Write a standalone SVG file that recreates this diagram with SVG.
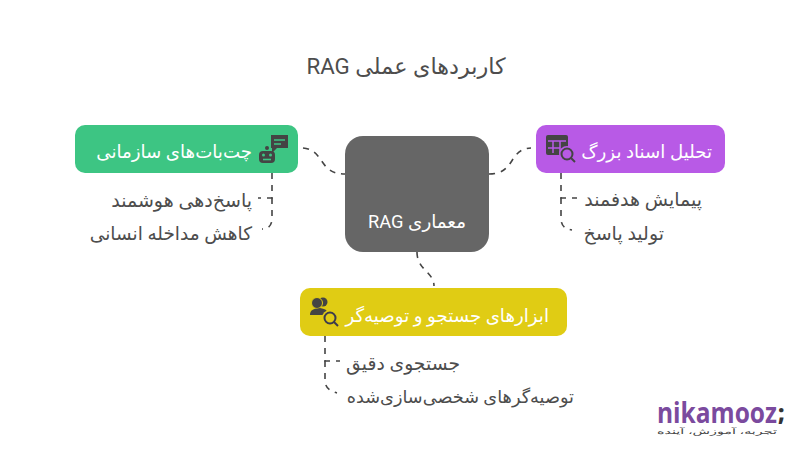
<svg xmlns="http://www.w3.org/2000/svg" width="800" height="450" viewBox="0 0 800 450">
<style>
text{font-family:Roboto,"DejaVu Sans",sans-serif;direction:rtl;unicode-bidi:embed}
.t{font-size:18.2px;fill:#fff}
.s{font-size:18.3px;fill:#4d4d4d}
.c{fill:none;stroke:#444;stroke-width:1.6;stroke-dasharray:6 6}
.i{fill:#444}
.l{fill:none;stroke:#444;stroke-width:2}
</style>
<rect width="800" height="450" fill="#fff"/>
<text id="title" x="406" y="74" text-anchor="middle" style="font-size:22.3px;fill:#4d4d4d">کاربردهای عملی RAG</text>
<g id="connectors">
<path class="c" d="M303 148C325 150 318 174 345 174"/>
<path class="c" d="M489 174C516 174 508 149 531 148"/>
<path class="c" d="M417 252C417 270 434 272 434 286"/>
<path class="c" d="M272 173V198H258"/>
<path class="c" d="M272 198V218C272 226 268 229 262 229"/>
<path class="c" d="M561 173V198H577"/>
<path class="c" d="M561 198V218C561 226 565 229 572 230"/>
<path class="c" d="M325 336V361H340"/>
<path class="c" d="M325 361V380C325 388 330 391 337 393"/>
</g>
<g id="center">
<rect x="345" y="136" width="144" height="116" rx="18" fill="#666"/>
<text x="417" y="228" text-anchor="middle" style="font-size:18.3px;fill:#fff">معماری RAG</text>
</g>
<g id="node-chatbots">
<rect x="75" y="125" width="223" height="48" rx="10" fill="#3dc583"/>
<path class="i" d="M271 135H288V148H277L272 153V148H271Z"/>
<path d="M274 140H285M274 144H281" stroke="#3dc583" stroke-width="1.5"/>
<rect class="i" x="259" y="151" width="16" height="12" rx="4"/>
<circle class="i" cx="267" cy="148" r="2"/>
<circle cx="263.500" cy="155" r="1.500" fill="#3dc583"/><circle cx="270.500" cy="155" r="1.500" fill="#3dc583"/>
<path d="M263 159.500h8" stroke="#3dc583" stroke-width="1.600"/>
<text class="t" x="252" y="158">چت‌بات‌های سازمانی</text>
</g>
<g id="leaf-chat-1"><text class="s" style="font-size:19px" x="252" y="207">پاسخ‌دهی هوشمند</text></g>
<g id="leaf-chat-2"><text class="s" style="font-size:18.500px" x="252" y="240">کاهش مداخله انسانی</text></g>
<g id="node-docs">
<rect x="536" y="125" width="189" height="48" rx="10" fill="#b85ae6"/>
<rect class="i" x="546" y="135" width="22" height="20" rx="2"/>
<path d="M548 141H566M548 148H560M553 141V153M560 141V153" stroke="#b85ae6" stroke-width="1.500"/>
<circle cx="567" cy="154" r="8" fill="#b85ae6"/>
<circle class="l" cx="567" cy="154" r="5.500"/>
<path class="l" d="M571 158L575 162"/>
<text class="t" x="712" y="158">تحلیل اسناد بزرگ</text>
</g>
<g id="leaf-docs-1"><text class="s" style="font-size:19px" x="702" y="206">پیمایش هدفمند</text></g>
<g id="leaf-docs-2"><text class="s" style="font-size:19px" x="664" y="240">تولید پاسخ</text></g>
<g id="node-tools">
<rect x="300" y="288" width="267" height="48" rx="10" fill="#e0cc14"/>
<circle class="i" cx="323" cy="302" r="4.500"/>
<circle class="i" cx="317" cy="303" r="5.500" stroke="#e0cc14"/>
<path class="i" d="M310 315C310 310 313 309 320 308C326 309 328 311 329 315Z"/>
<circle cx="330" cy="318" r="8" fill="#e0cc14"/>
<circle class="l" cx="330" cy="318" r="5.500" style="stroke:#3c3c4c"/>
<path class="l" d="M334 322L338 326" style="stroke:#3c3c4c"/>
<text class="t" x="549" y="322">ابزارهای جستجو و توصیه‌گر</text>
</g>
<g id="leaf-tools-1"><text class="s" style="font-size:18.800px" x="460" y="370">جستجوی دقیق</text></g>
<g id="leaf-tools-2"><text class="s" style="font-size:17.700px" x="574" y="403">توصیه‌گرهای شخصی‌سازی‌شده</text></g>
<g id="logo">
<text x="657" y="423" textLength="120" lengthAdjust="spacingAndGlyphs" style="font-family:'Open Sans',sans-serif;font-size:29px;font-weight:700;fill:#7b4a9e;direction:ltr">nikamooz</text>
<text x="778" y="421" style="font-family:'Open Sans',sans-serif;font-size:22px;font-weight:800;fill:#333;direction:ltr">;</text>
<text x="777" y="434" textLength="120" lengthAdjust="spacingAndGlyphs" style="font-size:7.500px;fill:#444">تجربه، آموزش، آینده</text>
</g>
</svg>
